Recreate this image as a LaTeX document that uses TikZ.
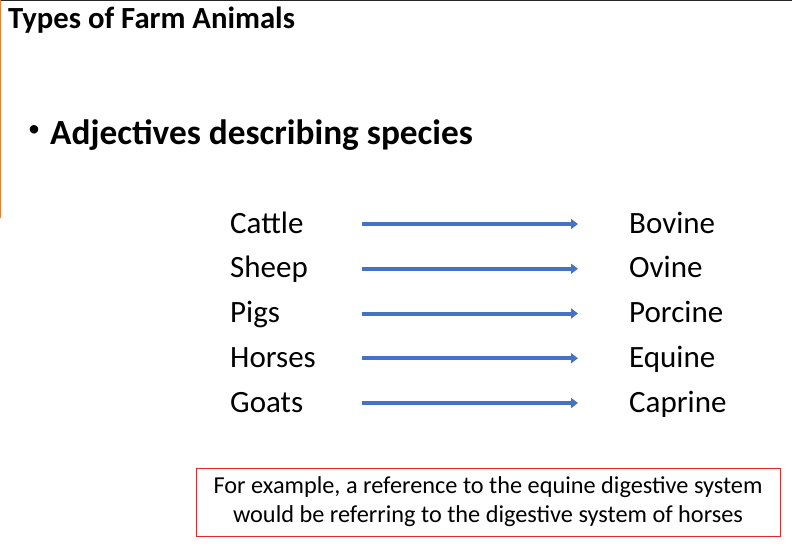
\documentclass[tikz,border=0pt]{standalone}
\usepackage{fontspec}
\setmainfont{Carlito}
\usepackage{tikz}
\usetikzlibrary{arrows.meta, positioning}
\definecolor{arrblue}{RGB}{68,114,196}
\definecolor{slideorange}{RGB}{237,125,49}
\definecolor{boxred}{RGB}{232,40,40}

\begin{document}
\begin{tikzpicture}[x=1pt, y=-1pt]
\tikzset{animal/.style = {anchor=base west, inner sep=0pt, font=\fontsize{31}{37}\selectfont},
         arr/.style = {-{Triangle[length=7pt,width=10pt]}, arrblue, line width=4pt}}
\useasboundingbox (0,0) rectangle (792,547);
            % frame
	\draw[black!85, line width=1.5pt] (0,0.5) -- (792,0.5);
	\draw[slideorange, line width=1.5pt] (0.5,0) -- (0.5,218);
            % headings
	\node[anchor=base west, inner sep=0pt, font=\fontsize{30.7}{36}\selectfont\bfseries] (title) at (8,28) {Types of Farm Animals};
	\node[inner sep=0pt, font=\fontsize{24}{28}\selectfont] (dot) at (34,131) {\textbullet};
	\node[anchor=base west, inner sep=0pt, font=\fontsize{35.3}{42}\selectfont\bfseries] (heading) at (50,144) {Adjectives describing species};
            % species
	\node[animal] (cattle) at (230,233) {Cattle};
	\node[animal] (sheep) at (230,277.75) {Sheep};
	\node[animal] (pigs) at (230,322.5) {Pigs};
	\node[animal] (horses) at (230,367.25) {Horses};
	\node[animal] (goats) at (230,412) {Goats};
	\node[animal] (bovine) at (629,233) {Bovine};
	\node[animal] (ovine) at (629,277.75) {Ovine};
	\node[animal] (porcine) at (629,322.5) {Porcine};
	\node[animal] (equine) at (629,367.25) {Equine};
	\node[animal] (caprine) at (629,412) {Caprine};
	\coordinate (s) at (362,0);
	\coordinate (e) at (578,0);
            % arrows
	\draw[arr] ([yshift=9pt]cattle.base -| s) -- ([yshift=9pt]bovine.base -| e);
	\draw[arr] ([yshift=9pt]sheep.base -| s) -- ([yshift=9pt]ovine.base -| e);
	\draw[arr] ([yshift=9pt]pigs.base -| s) -- ([yshift=9pt]porcine.base -| e);
	\draw[arr] ([yshift=9pt]horses.base -| s) -- ([yshift=9pt]equine.base -| e);
	\draw[arr] ([yshift=9pt]goats.base -| s) -- ([yshift=9pt]caprine.base -| e);
            % note
	\node[draw=boxred, line width=1pt, minimum width=584pt, minimum height=68pt, inner sep=0pt,
	      align=center, font=\fontsize{24.3}{29}\selectfont] (note) at (488,502)
	      {For example, a reference to the equine digestive system\\would be referring to the digestive system of horses};
\end{tikzpicture}
\end{document}
